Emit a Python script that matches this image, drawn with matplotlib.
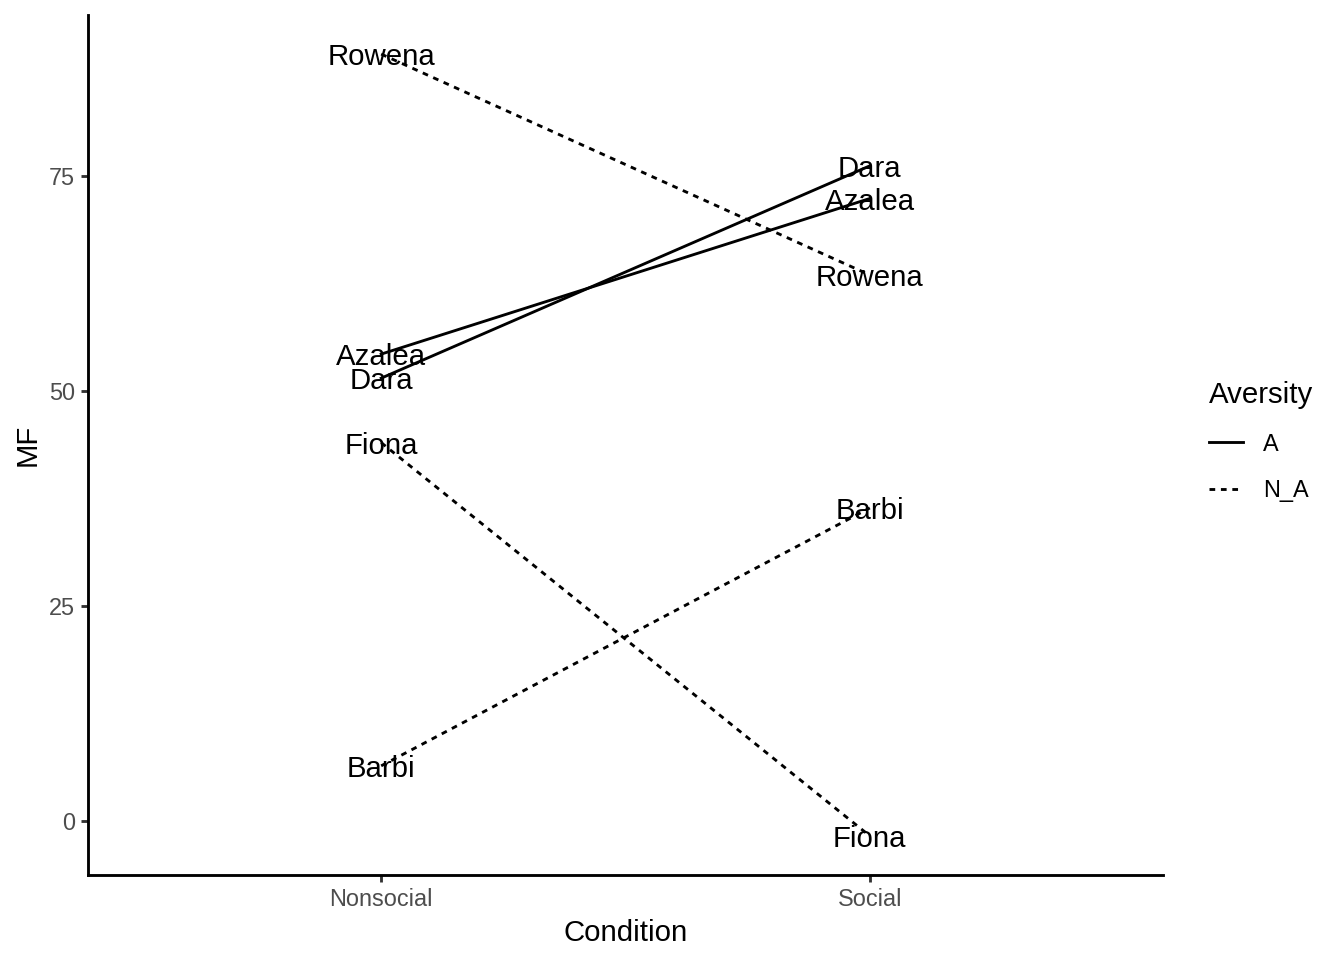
import matplotlib.pyplot as plt
from matplotlib.lines import Line2D

plt.rcParams['font.family'] = ['Liberation Sans', 'DejaVu Sans']

conditions = ['Nonsocial', 'Social']
names = ['Rowena', 'Dara', 'Azalea', 'Fiona', 'Barbi']
aversity = ['N_A', 'A', 'A', 'N_A', 'N_A']
mf_nonsocial = [89.2, 51.5, 54.3, 44.0, 6.4]
mf_social = [63.5, 76.2, 72.4, -1.75, 36.4]

styles = {'A': '-', 'N_A': (0, (2, 2))}
lw = 1.07

fig = plt.figure(figsize=(7, 5), dpi=192)
ax = fig.add_axes([88 / 1344, 85 / 960, (1163 - 88) / 1344, (875 - 15) / 960])

x = list(range(len(conditions)))
for name, grp, y0, y1 in zip(names, aversity, mf_nonsocial, mf_social):
    ys = [y0, y1]
    ax.plot(x, ys, color='black', linestyle=styles[grp], linewidth=lw)
    for xi, yi in zip(x, ys):
        ax.text(xi, yi, name, ha='center', va='center_baseline', fontsize=11, color='black')

lo = min(mf_nonsocial + mf_social)
hi = max(mf_nonsocial + mf_social)
pad = (hi - lo) * 0.05
ax.set_ylim(lo - pad, hi + pad)
ax.set_xlim(-0.6, 1.6)
ax.set_xticks(x)
ax.set_xticklabels(conditions)
ax.set_yticks([0, 25, 50, 75])

for side in ['top', 'right']:
    ax.spines[side].set_visible(False)
for side in ['left', 'bottom']:
    ax.spines[side].set_linewidth(lw)
ax.tick_params(length=2.75, width=lw, color='#333333', labelcolor='#4D4D4D',
               labelsize=8.8, pad=2.2)

ax.set_xlabel('Condition', fontsize=11, labelpad=2.8)
ax.set_ylabel('MF', fontsize=11, labelpad=2.8)

handles = [Line2D([], [], color='black', linestyle=styles[k], linewidth=lw) for k in ['A', 'N_A']]
leg = ax.legend(handles, ['A', 'N_A'], title='Aversity', frameon=False,
                loc='upper left', bbox_to_anchor=(1188 / 1344, 1 - 360 / 960),
                bbox_transform=fig.transFigure, fontsize=8.8, title_fontsize=11,
                handlelength=1.45, handletextpad=0.85, labelspacing=1.0,
                alignment='left')

fig.savefig('out.png', dpi=192)
